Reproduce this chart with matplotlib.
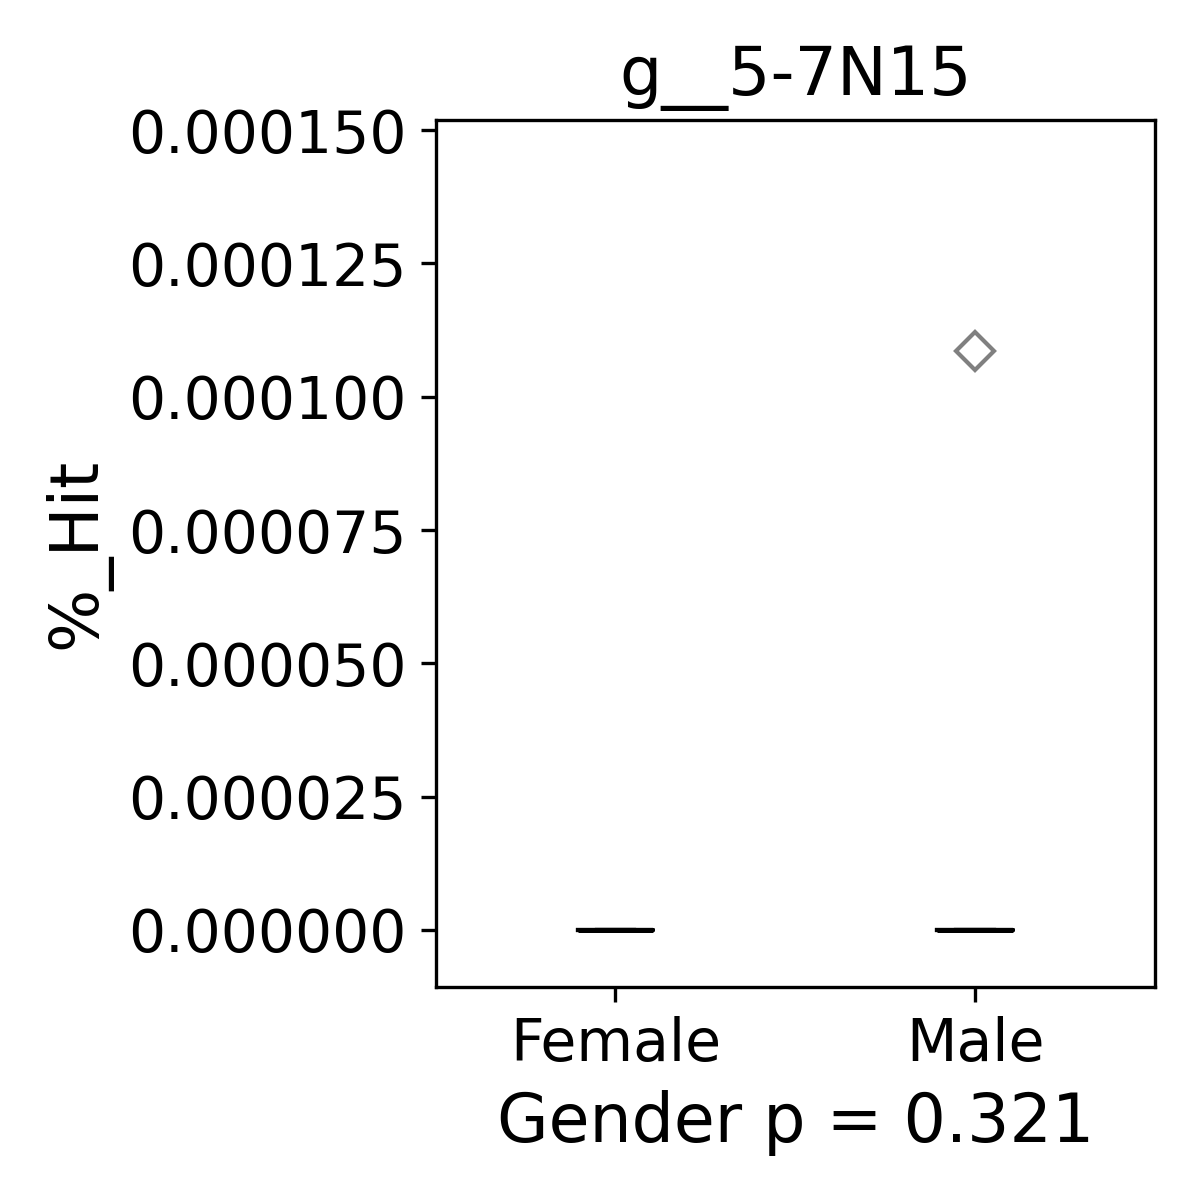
import matplotlib
matplotlib.use("Agg")
import matplotlib.pyplot as plt

groups = ['Female', 'Male']
female_vals = [0.0, 0.0, 0.0, 0.0, 0.0, 0.0]
male_vals = [0.0, 0.0, 0.0, 0.0, 0.0, 0.0, 0.0001085]
title = 'g__5-7N15'
p_value = 0.321

fig = plt.figure(figsize=(4, 4), dpi=300)
ax = fig.add_axes([0.363, 0.1775, 0.5996, 0.7225])

ax.boxplot([female_vals, male_vals], positions=[0, 1], widths=0.21,
           medianprops=dict(color='black', linewidth=1.2),
           boxprops=dict(color='black'),
           whiskerprops=dict(color='black'),
           capprops=dict(color='black'),
           flierprops=dict(marker='D', markersize=6.5, markerfacecolor='none',
                           markeredgecolor='gray', markeredgewidth=1.0))

ax.set_xlim(-0.5, 1.5)
ax.set_ylim(-1.07e-5, 1.519e-4)
ax.set_yticks([0, 0.000025, 0.00005, 0.000075, 0.0001, 0.000125, 0.00015])
ax.set_yticklabels(['%.6f' % v for v in ax.get_yticks()], fontsize=14)
ax.set_xticks([0, 1])
ax.set_xticklabels(groups, fontsize=14)
ax.set_title(title, fontsize=16)
ax.set_ylabel('%_Hit', fontsize=16)
ax.set_xlabel(f'Gender p = {p_value}', fontsize=16)

fig.savefig('out.png', dpi=300)
